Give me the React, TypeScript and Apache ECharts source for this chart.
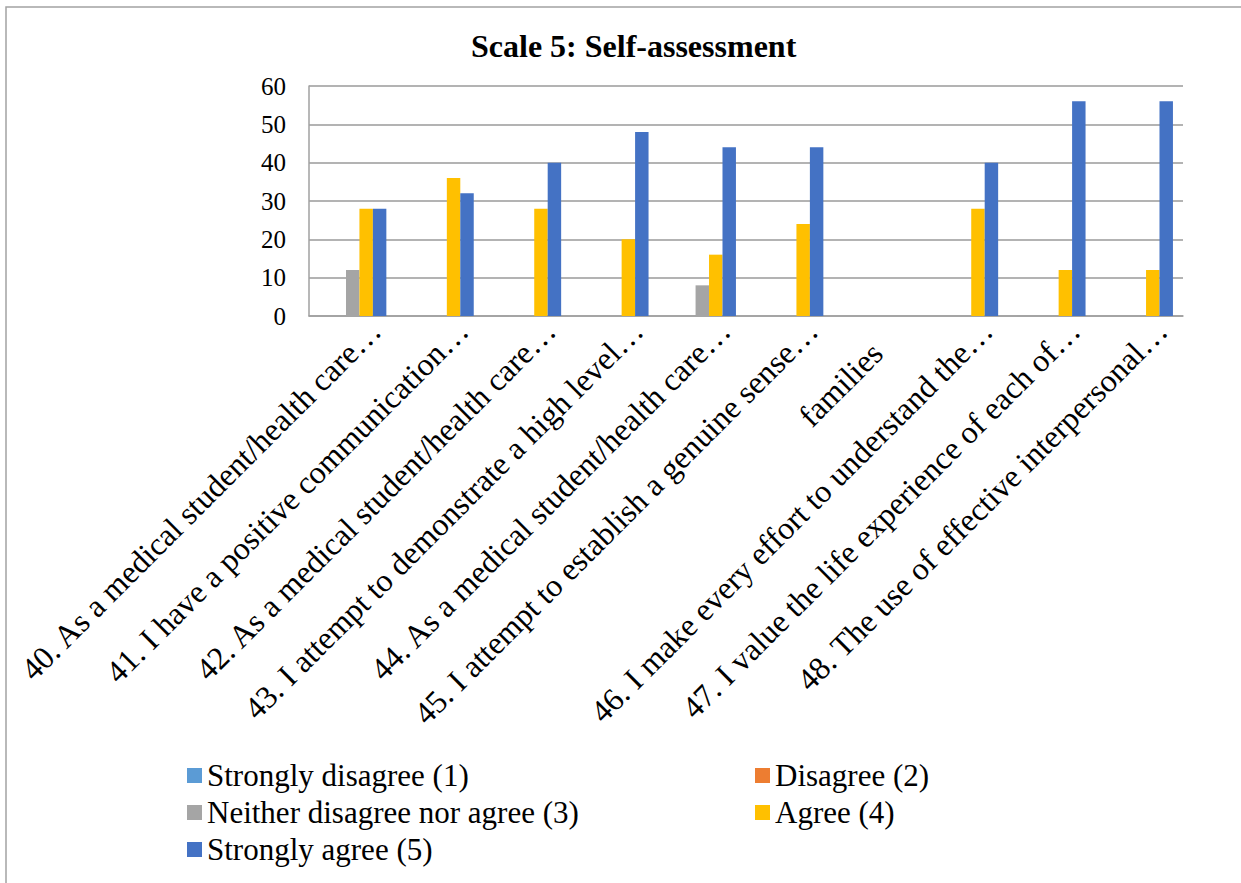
import React, { useEffect, useRef } from "react";
import * as echarts from "echarts";

// Survey items (x-axis categories), as printed on the axis
const categories = [
  "40. As a medical student/health care…",
  "41. I have a positive communication…",
  "42. As a medical student/health care…",
  "43. I attempt to demonstrate a high level…",
  "44. As a medical student/health care…",
  "45. I attempt to establish a genuine sense…",
  "families",
  "46. I make every effort to understand the…",
  "47. I value the life experience of each of…",
  "48. The use of effective interpersonal…",
];

const seriesNames = [
  "Strongly disagree (1)",
  "Disagree (2)",
  "Neither disagree nor agree (3)",
  "Agree (4)",
  "Strongly agree (5)",
];

// Responses per item
const stronglyDisagree = [0, 0, 0, 0, 0, 0, 0, 0, 0, 0];
const disagree = [0, 0, 0, 0, 0, 0, 0, 0, 0, 0];
const neither = [12, 0, 0, 0, 8, 0, 0, 0, 0, 0];
const agree = [28, 36, 28, 20, 16, 24, 0, 28, 12, 12];
const stronglyAgree = [28, 32, 40, 48, 44, 44, 0, 40, 56, 56];

const seriesColors = ["#5B9BD5", "#ED7D31", "#A5A5A5", "#FFC000", "#4472C4"];

const yMin = 0;
const yMax = 60;
const yStep = 10;

const FONT = "Liberation Serif";

export default function App() {
  const ref = useRef<HTMLDivElement>(null);

  useEffect(() => {
    if (!ref.current) return;
    document.body.style.margin = "0";
    const chart = echarts.init(ref.current, null, { renderer: "svg" });

    const values = [stronglyDisagree, disagree, neither, agree, stronglyAgree];

    const legendText = {
      fontSize: 31,
      fontFamily: FONT,
      color: "#000",
    };

    chart.setOption({
      animation: false,
      textStyle: { fontFamily: FONT },
      title: {
        text: "Scale 5: Self-assessment",
        left: 466,
        top: 25,
        textStyle: {
          fontSize: 32,
          fontWeight: "bold",
          fontFamily: FONT,
          color: "#000",
        },
      },
      graphic: [
        {
          type: "rect",
          shape: { x: 6, y: 7, width: 1400, height: 1000 },
          style: { fill: "none", stroke: "#a3a3a3", lineWidth: 1.5 },
          silent: true,
        },
      ],
      legend: [
        {
          data: [seriesNames[0], seriesNames[2], seriesNames[4]],
          orient: "vertical",
          left: 182,
          top: 755,
          itemWidth: 15,
          itemHeight: 15,
          itemGap: 6,
          icon: "rect",
          textStyle: legendText,
        },
        {
          data: [seriesNames[1], seriesNames[3]],
          orient: "vertical",
          left: 750,
          top: 755,
          itemWidth: 15,
          itemHeight: 15,
          itemGap: 6,
          icon: "rect",
          textStyle: legendText,
        },
      ],
      grid: {
        left: 309,
        right: 58,
        top: 86,
        bottom: 567,
        containLabel: false,
      },
      xAxis: {
        type: "category",
        data: categories.map((c) =>
          c === "families"
            ? { value: c, textStyle: { padding: [15, 0, 0, 0] } }
            : c
        ),
        axisLine: { show: true, lineStyle: { color: "#a0a0a0", width: 1.5 } },
        axisTick: { show: false },
        axisLabel: {
          interval: 0,
          rotate: 45,
          fontSize: 32,
          fontFamily: FONT,
          color: "#000",
          margin: 32,
          padding: [0, -32, 0, 0],
        },
      },
      yAxis: {
        type: "value",
        min: yMin,
        max: yMax,
        interval: yStep,
        axisLine: { show: true, lineStyle: { color: "#a0a0a0", width: 1.5 } },
        axisTick: { show: false },
        splitLine: { lineStyle: { color: "#9a9a9a", width: 1.5 } },
        axisLabel: {
          fontSize: 25,
          fontFamily: FONT,
          color: "#000",
          margin: 23,
        },
      },
      series: seriesNames.map((name, i) => ({
        name,
        type: "bar",
        data: values[i],
        barGap: "0%",
        barCategoryGap: "23%",
        itemStyle: { color: seriesColors[i] },
      })),
    });

    return () => {
      chart.dispose();
    };
  }, []);

  return <div ref={ref} style={{ width: 1241, height: 883, background: "#fff" }} />;
}
